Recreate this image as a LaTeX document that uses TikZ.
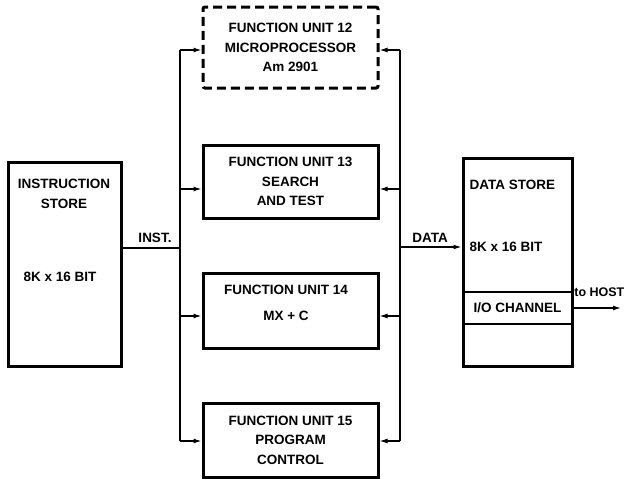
\documentclass[tikz,border=0pt]{standalone}
\usepackage{fontspec}
\setmainfont{Liberation Sans}
\usetikzlibrary{arrows.meta,positioning,calc}

\begin{document}
\begin{tikzpicture}[x=1pt,y=-1pt,>={Latex[length=8pt,width=5pt]},line width=1.3pt,
    font=\fontsize{13.5}{19.5}\selectfont\bfseries]
  \tikzstyle{store}=[draw,line width=3pt,inner sep=0pt]
  \tikzstyle{unit}=[draw,line width=3pt,minimum width=175pt,align=center,inner sep=0pt]
  \tikzstyle{tag}=[inner sep=1pt,align=center]
  \useasboundingbox (0,0) rectangle (627,479);
  \fill[white] (0,0) rectangle (627,479);

  % stores
  \node[store, minimum width=113pt, minimum height=204pt] (istore) at (64.5,264) {};
  \node[tag] (istname) at (64,194) {INSTRUCTION\\STORE};
  \node[tag] (istsize) at (60,277) {8K x 16 BIT};
  \node[store, minimum width=109pt, minimum height=208pt] (dstore) at (517.5,262) {};
  \node[tag, anchor=west] (dstname) at (468,185) {DATA STORE};
  \node[tag, anchor=west] (dstsize) at (468,247) {8K x 16 BIT};
  \node[draw, line width=2pt, minimum width=109pt, minimum height=32pt, inner sep=0pt] (io) at (517.5,308) {I/O CHANNEL};

  % function units
  \node[unit, dash pattern=on 9pt off 5pt, rounded corners=2pt, minimum height=81pt] (fu12) at (290.5,47.5)
    {FUNCTION UNIT 12\\MICROPROCESSOR\\Am 2901};
  \node[unit, minimum height=73pt] (fu13) at (290.5,181.5) {FUNCTION UNIT 13\\SEARCH\\AND TEST};
  \node[unit, minimum height=75pt] (fu14) at (290.5,310.5) {};
  \node[tag] (fu14txt) at (286,303) {FUNCTION UNIT 14\\[6pt]MX + C};
  \node[unit, minimum height=74pt] (fu15) at (290.5,440) {FUNCTION UNIT 15\\PROGRAM\\CONTROL};

  % buses
  \coordinate (lfu12) at (180,50);
  \coordinate (lfu13) at (180,189);
  \coordinate (lfu14) at (180,316);
  \coordinate (lfu15) at (180,441);
  \coordinate (linst) at (180,248);
  \coordinate (rfu12) at (400,50);
  \coordinate (rfu13) at (400,189);
  \coordinate (rfu14) at (400,316);
  \coordinate (rfu15) at (400,441);
  \coordinate (rdata) at (400,247);
  \coordinate (host) at (621,308);

  \draw (lfu12) -- (lfu15);
  \draw (rfu12) -- (rfu15);
  \foreach \u in {12,13,14,15} {
    \draw[->] (lfu\u) -- (lfu\u -| fu\u.west);
    \draw[->] (rfu\u) -- (rfu\u -| fu\u.east);
  }
  \draw (istore.east |- linst) -- (linst);
  \draw[->] (rdata) -- (rdata -| dstore.west);
  \draw[->] (io.east) -- (host);

  % labels
  \node[tag] (inst) at (155,238) {INST.};
  \node[tag] (data) at (430,238) {DATA};
  \node[tag, anchor=east, font=\fontsize{12.5}{15}\selectfont\bfseries] (tohost) at (626,292) {to HOST};
\end{tikzpicture}
\end{document}
